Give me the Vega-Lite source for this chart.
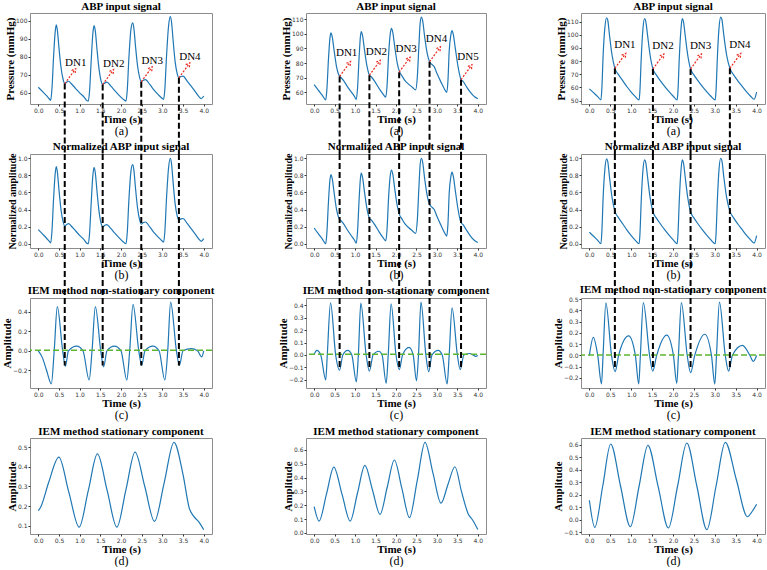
{
"$schema": "https://vega.github.io/schema/vega-lite/v6.json",
"background": "white",
"padding": {"left": 0, "top": 0, "right": 1, "bottom": 0},
"spacing": 61,
"config": {
 "font": "Liberation Serif",
 "view": {"stroke": "#8c8c8c", "strokeWidth": 1, "fill": "white"},
 "axis": {"domain": false, "grid": false, "labelFont": "DejaVu Sans", "labelFontSize": 6, "labelColor": "#333", "tickColor": "#333", "tickSize": 2, "labelPadding": 1, "titleFont": "Liberation Serif", "titleFontSize": 11, "titleFontWeight": "bold", "titleColor": "black", "labelFlush": false, "labelOverlap": false},
 "axisX": {"titlePadding": 0},
 "axisY": {"titlePadding": 0},
 "title": {"font": "Liberation Serif", "fontSize": 11, "fontWeight": "bold", "color": "black", "offset": 1, "frame": "group"}
},
"datasets": {
 "a1": [{"t":0,"v":63.1},{"t":0.1,"v":60.8},{"t":0.2,"v":58.4},{"t":0.28,"v":56.3},{"t":0.3,"v":55.8},{"t":0.33,"v":62},{"t":0.37,"v":80},{"t":0.41,"v":94},{"t":0.435,"v":97.6},{"t":0.46,"v":95},{"t":0.5,"v":85},{"t":0.55,"v":74},{"t":0.6,"v":67.5},{"t":0.64,"v":65.1},{"t":0.69,"v":66},{"t":0.735,"v":66.4},{"t":0.8,"v":65},{"t":0.9,"v":62.5},{"t":1,"v":60},{"t":1.1,"v":57.8},{"t":1.18,"v":55.6},{"t":1.21,"v":55.4},{"t":1.24,"v":61},{"t":1.28,"v":78},{"t":1.32,"v":93},{"t":1.35,"v":97.2},{"t":1.38,"v":94},{"t":1.42,"v":84},{"t":1.47,"v":73},{"t":1.52,"v":66.5},{"t":1.56,"v":64.6},{"t":1.61,"v":65.5},{"t":1.66,"v":65.9},{"t":1.75,"v":63.8},{"t":1.85,"v":61.2},{"t":1.95,"v":58.7},{"t":2.05,"v":56.5},{"t":2.12,"v":55.4},{"t":2.15,"v":61},{"t":2.19,"v":79},{"t":2.24,"v":95},{"t":2.28,"v":98.7},{"t":2.31,"v":96},{"t":2.35,"v":86},{"t":2.4,"v":75},{"t":2.45,"v":68.5},{"t":2.49,"v":66.1},{"t":2.54,"v":67},{"t":2.59,"v":67.3},{"t":2.7,"v":64.5},{"t":2.8,"v":61.5},{"t":2.9,"v":59},{"t":3,"v":56.8},{"t":3.03,"v":56.3},{"t":3.06,"v":62},{"t":3.1,"v":80},{"t":3.15,"v":97},{"t":3.19,"v":102.2},{"t":3.22,"v":99.5},{"t":3.26,"v":89},{"t":3.31,"v":77},{"t":3.36,"v":70.5},{"t":3.4,"v":68.3},{"t":3.45,"v":69},{"t":3.5,"v":69.2},{"t":3.6,"v":66.5},{"t":3.7,"v":63.5},{"t":3.8,"v":60.5},{"t":3.9,"v":57.5},{"t":3.94,"v":56.7},{"t":4,"v":58.2}],
 "b1": [{"t":0,"v":0.165},{"t":0.1,"v":0.115},{"t":0.2,"v":0.064},{"t":0.28,"v":0.019},{"t":0.3,"v":0.009},{"t":0.33,"v":0.141},{"t":0.37,"v":0.526},{"t":0.41,"v":0.825},{"t":0.435,"v":0.902},{"t":0.46,"v":0.846},{"t":0.5,"v":0.632},{"t":0.55,"v":0.397},{"t":0.6,"v":0.259},{"t":0.64,"v":0.207},{"t":0.69,"v":0.226},{"t":0.735,"v":0.235},{"t":0.8,"v":0.205},{"t":0.9,"v":0.152},{"t":1,"v":0.098},{"t":1.1,"v":0.051},{"t":1.18,"v":0.004},{"t":1.21,"v":0},{"t":1.24,"v":0.12},{"t":1.28,"v":0.483},{"t":1.32,"v":0.803},{"t":1.35,"v":0.893},{"t":1.38,"v":0.825},{"t":1.42,"v":0.611},{"t":1.47,"v":0.376},{"t":1.52,"v":0.237},{"t":1.56,"v":0.197},{"t":1.61,"v":0.216},{"t":1.66,"v":0.224},{"t":1.75,"v":0.179},{"t":1.85,"v":0.124},{"t":1.95,"v":0.071},{"t":2.05,"v":0.024},{"t":2.12,"v":0},{"t":2.15,"v":0.12},{"t":2.19,"v":0.504},{"t":2.24,"v":0.846},{"t":2.28,"v":0.925},{"t":2.31,"v":0.868},{"t":2.35,"v":0.654},{"t":2.4,"v":0.419},{"t":2.45,"v":0.28},{"t":2.49,"v":0.229},{"t":2.54,"v":0.248},{"t":2.59,"v":0.254},{"t":2.7,"v":0.194},{"t":2.8,"v":0.13},{"t":2.9,"v":0.077},{"t":3,"v":0.03},{"t":3.03,"v":0.019},{"t":3.06,"v":0.141},{"t":3.1,"v":0.526},{"t":3.15,"v":0.889},{"t":3.19,"v":1.0},{"t":3.22,"v":0.942},{"t":3.26,"v":0.718},{"t":3.31,"v":0.462},{"t":3.36,"v":0.323},{"t":3.4,"v":0.276},{"t":3.45,"v":0.291},{"t":3.5,"v":0.295},{"t":3.6,"v":0.237},{"t":3.7,"v":0.173},{"t":3.8,"v":0.109},{"t":3.9,"v":0.045},{"t":3.94,"v":0.028},{"t":4,"v":0.06}],
 "c1": [{"t":0,"v":0},{"t":0.1,"v":-0.07},{"t":0.2,"v":-0.2},{"t":0.316,"v":-0.34},{"t":0.385,"v":0},{"t":0.46,"v":0.454},{"t":0.59,"v":0},{"t":0.656,"v":-0.159},{"t":0.73,"v":0},{"t":0.93,"v":0.048},{"t":1.08,"v":0},{"t":1.23,"v":-0.3},{"t":1.3,"v":0},{"t":1.38,"v":0.454},{"t":1.51,"v":0},{"t":1.58,"v":-0.165},{"t":1.66,"v":0},{"t":1.84,"v":0.048},{"t":2.0,"v":0},{"t":2.14,"v":-0.3},{"t":2.21,"v":0},{"t":2.29,"v":0.476},{"t":2.43,"v":0},{"t":2.5,"v":-0.149},{"t":2.58,"v":0},{"t":2.77,"v":0.048},{"t":2.92,"v":0},{"t":3.06,"v":-0.3},{"t":3.13,"v":0},{"t":3.2,"v":0.5},{"t":3.34,"v":0},{"t":3.41,"v":-0.149},{"t":3.5,"v":0},{"t":3.7,"v":0.022},{"t":3.85,"v":0},{"t":3.95,"v":-0.063},{"t":4,"v":0}],
 "d1": [{"t":0,"v":0.177},{"t":0.063,"v":0.197},{"t":0.25,"v":0.32},{"t":0.498,"v":0.45},{"t":0.74,"v":0.27},{"t":0.988,"v":0.093},{"t":1.21,"v":0.28},{"t":1.43,"v":0.466},{"t":1.665,"v":0.28},{"t":1.9,"v":0.093},{"t":2.12,"v":0.284},{"t":2.34,"v":0.475},{"t":2.575,"v":0.3},{"t":2.81,"v":0.122},{"t":3.045,"v":0.32},{"t":3.28,"v":0.525},{"t":3.5,"v":0.36},{"t":3.65,"v":0.19},{"t":3.75,"v":0.15},{"t":3.88,"v":0.12},{"t":4,"v":0.08}],
 "a2": [{"t":0,"v":65.3},{"t":0.1,"v":61.5},{"t":0.2,"v":58},{"t":0.283,"v":54.9},{"t":0.31,"v":62},{"t":0.35,"v":83},{"t":0.385,"v":97},{"t":0.41,"v":100.6},{"t":0.44,"v":98},{"t":0.49,"v":88},{"t":0.55,"v":77},{"t":0.62,"v":70.9},{"t":0.66,"v":70},{"t":0.72,"v":68},{"t":0.8,"v":64.5},{"t":0.9,"v":60.5},{"t":0.98,"v":57.5},{"t":1.03,"v":55.3},{"t":1.06,"v":63},{"t":1.1,"v":85},{"t":1.13,"v":98},{"t":1.15,"v":101.5},{"t":1.18,"v":99},{"t":1.23,"v":89},{"t":1.29,"v":78},{"t":1.35,"v":71.7},{"t":1.4,"v":70.5},{"t":1.48,"v":67.5},{"t":1.58,"v":63},{"t":1.68,"v":59},{"t":1.75,"v":56.8},{"t":1.78,"v":64},{"t":1.82,"v":86},{"t":1.86,"v":100},{"t":1.89,"v":103.6},{"t":1.92,"v":101},{"t":1.97,"v":91},{"t":2.03,"v":80},{"t":2.09,"v":73.8},{"t":2.14,"v":71.5},{"t":2.22,"v":68},{"t":2.32,"v":65.3},{"t":2.4,"v":63.5},{"t":2.48,"v":61.7},{"t":2.52,"v":70},{"t":2.56,"v":92},{"t":2.59,"v":107},{"t":2.62,"v":111.3},{"t":2.65,"v":109},{"t":2.7,"v":98},{"t":2.76,"v":87},{"t":2.82,"v":80.9},{"t":2.88,"v":79},{"t":2.93,"v":77.7},{"t":3,"v":73},{"t":3.1,"v":67},{"t":3.18,"v":62.5},{"t":3.24,"v":60},{"t":3.27,"v":68},{"t":3.3,"v":88},{"t":3.34,"v":99},{"t":3.37,"v":102.1},{"t":3.4,"v":99.5},{"t":3.45,"v":90},{"t":3.52,"v":77},{"t":3.59,"v":68.7},{"t":3.64,"v":67.5},{"t":3.72,"v":64},{"t":3.82,"v":60},{"t":3.92,"v":57},{"t":4,"v":55.7}],
 "b2": [{"t":0,"v":0.184},{"t":0.1,"v":0.117},{"t":0.2,"v":0.055},{"t":0.283,"v":0},{"t":0.31,"v":0.126},{"t":0.35,"v":0.498},{"t":0.385,"v":0.746},{"t":0.41,"v":0.81},{"t":0.44,"v":0.764},{"t":0.49,"v":0.587},{"t":0.55,"v":0.392},{"t":0.62,"v":0.284},{"t":0.66,"v":0.268},{"t":0.72,"v":0.232},{"t":0.8,"v":0.17},{"t":0.9,"v":0.099},{"t":0.98,"v":0.046},{"t":1.03,"v":0.007},{"t":1.06,"v":0.144},{"t":1.1,"v":0.534},{"t":1.13,"v":0.764},{"t":1.15,"v":0.826},{"t":1.18,"v":0.782},{"t":1.23,"v":0.605},{"t":1.29,"v":0.41},{"t":1.35,"v":0.298},{"t":1.4,"v":0.277},{"t":1.48,"v":0.223},{"t":1.58,"v":0.144},{"t":1.68,"v":0.073},{"t":1.75,"v":0.034},{"t":1.78,"v":0.161},{"t":1.82,"v":0.551},{"t":1.86,"v":0.8},{"t":1.89,"v":0.863},{"t":1.92,"v":0.817},{"t":1.97,"v":0.64},{"t":2.03,"v":0.445},{"t":2.09,"v":0.335},{"t":2.14,"v":0.294},{"t":2.22,"v":0.232},{"t":2.32,"v":0.184},{"t":2.4,"v":0.152},{"t":2.48,"v":0.121},{"t":2.52,"v":0.268},{"t":2.56,"v":0.658},{"t":2.59,"v":0.924},{"t":2.62,"v":1.0},{"t":2.65,"v":0.959},{"t":2.7,"v":0.764},{"t":2.76,"v":0.569},{"t":2.82,"v":0.461},{"t":2.88,"v":0.427},{"t":2.93,"v":0.404},{"t":3,"v":0.321},{"t":3.1,"v":0.215},{"t":3.18,"v":0.135},{"t":3.24,"v":0.09},{"t":3.27,"v":0.232},{"t":3.3,"v":0.587},{"t":3.34,"v":0.782},{"t":3.37,"v":0.837},{"t":3.4,"v":0.791},{"t":3.45,"v":0.622},{"t":3.52,"v":0.392},{"t":3.59,"v":0.245},{"t":3.64,"v":0.223},{"t":3.72,"v":0.161},{"t":3.82,"v":0.09},{"t":3.92,"v":0.037},{"t":4,"v":0.014}],
 "c2": [{"t":0,"v":0.005},{"t":0.065,"v":0.037},{"t":0.16,"v":0},{"t":0.283,"v":-0.2},{"t":0.32,"v":0},{"t":0.4,"v":0.42},{"t":0.525,"v":0},{"t":0.62,"v":-0.123},{"t":0.7,"v":0},{"t":0.82,"v":0.037},{"t":0.92,"v":0},{"t":1.03,"v":-0.216},{"t":1.08,"v":0},{"t":1.14,"v":0.417},{"t":1.27,"v":0},{"t":1.35,"v":-0.13},{"t":1.44,"v":0},{"t":1.58,"v":0.03},{"t":1.66,"v":0},{"t":1.76,"v":-0.228},{"t":1.81,"v":0},{"t":1.88,"v":0.412},{"t":2.0,"v":0},{"t":2.08,"v":-0.118},{"t":2.16,"v":0},{"t":2.32,"v":0.061},{"t":2.42,"v":0},{"t":2.5,"v":-0.208},{"t":2.55,"v":0},{"t":2.61,"v":0.426},{"t":2.73,"v":0},{"t":2.8,"v":-0.135},{"t":2.88,"v":0},{"t":3.03,"v":0.037},{"t":3.13,"v":0},{"t":3.25,"v":-0.233},{"t":3.3,"v":0},{"t":3.37,"v":0.38},{"t":3.5,"v":0},{"t":3.57,"v":-0.118},{"t":3.66,"v":0},{"t":3.8,"v":0.012},{"t":3.88,"v":0},{"t":3.95,"v":-0.012},{"t":4,"v":-0.005}],
 "d2": [{"t":0,"v":0.19},{"t":0.12,"v":0.085},{"t":0.3,"v":0.28},{"t":0.48,"v":0.476},{"t":0.68,"v":0.28},{"t":0.88,"v":0.085},{"t":1.06,"v":0.29},{"t":1.24,"v":0.488},{"t":1.425,"v":0.31},{"t":1.61,"v":0.134},{"t":1.785,"v":0.33},{"t":1.96,"v":0.527},{"t":2.145,"v":0.32},{"t":2.33,"v":0.11},{"t":2.52,"v":0.38},{"t":2.71,"v":0.654},{"t":2.905,"v":0.43},{"t":3.1,"v":0.215},{"t":3.27,"v":0.35},{"t":3.44,"v":0.478},{"t":3.6,"v":0.3},{"t":3.76,"v":0.141},{"t":3.88,"v":0.09},{"t":4,"v":0.024}],
 "a3": [{"t":0,"v":58.9},{"t":0.1,"v":56},{"t":0.2,"v":53},{"t":0.277,"v":50.5},{"t":0.3,"v":60},{"t":0.33,"v":85},{"t":0.37,"v":105},{"t":0.41,"v":112.9},{"t":0.44,"v":111},{"t":0.48,"v":100},{"t":0.54,"v":85},{"t":0.61,"v":74.5},{"t":0.7,"v":69.5},{"t":0.8,"v":65},{"t":0.9,"v":60.5},{"t":1,"v":56.5},{"t":1.1,"v":53},{"t":1.19,"v":50.5},{"t":1.21,"v":58},{"t":1.24,"v":82},{"t":1.28,"v":104},{"t":1.32,"v":112.2},{"t":1.35,"v":110},{"t":1.39,"v":100},{"t":1.45,"v":85},{"t":1.52,"v":74},{"t":1.6,"v":69.5},{"t":1.7,"v":65},{"t":1.8,"v":60.8},{"t":1.9,"v":57},{"t":2,"v":53.5},{"t":2.1,"v":50.5},{"t":2.12,"v":58},{"t":2.15,"v":82},{"t":2.19,"v":104},{"t":2.22,"v":112.2},{"t":2.25,"v":110},{"t":2.29,"v":100},{"t":2.35,"v":85},{"t":2.42,"v":74},{"t":2.5,"v":69.5},{"t":2.6,"v":65},{"t":2.7,"v":60.8},{"t":2.8,"v":57},{"t":2.9,"v":53.5},{"t":3.01,"v":50.5},{"t":3.03,"v":58},{"t":3.06,"v":82},{"t":3.1,"v":105},{"t":3.14,"v":113.4},{"t":3.17,"v":111.5},{"t":3.21,"v":101},{"t":3.28,"v":85},{"t":3.36,"v":74.5},{"t":3.45,"v":69.5},{"t":3.55,"v":65},{"t":3.65,"v":61},{"t":3.75,"v":57},{"t":3.85,"v":53.5},{"t":3.94,"v":51},{"t":4,"v":56.5}],
 "b3": [{"t":0,"v":0.134},{"t":0.1,"v":0.087},{"t":0.2,"v":0.04},{"t":0.277,"v":0},{"t":0.3,"v":0.151},{"t":0.33,"v":0.548},{"t":0.37,"v":0.866},{"t":0.41,"v":0.992},{"t":0.44,"v":0.962},{"t":0.48,"v":0.787},{"t":0.54,"v":0.548},{"t":0.61,"v":0.382},{"t":0.7,"v":0.302},{"t":0.8,"v":0.231},{"t":0.9,"v":0.159},{"t":1,"v":0.095},{"t":1.1,"v":0.04},{"t":1.19,"v":0},{"t":1.21,"v":0.119},{"t":1.24,"v":0.501},{"t":1.28,"v":0.851},{"t":1.32,"v":0.981},{"t":1.35,"v":0.946},{"t":1.39,"v":0.787},{"t":1.45,"v":0.548},{"t":1.52,"v":0.374},{"t":1.6,"v":0.302},{"t":1.7,"v":0.231},{"t":1.8,"v":0.164},{"t":1.9,"v":0.103},{"t":2,"v":0.048},{"t":2.1,"v":0},{"t":2.12,"v":0.119},{"t":2.15,"v":0.501},{"t":2.19,"v":0.851},{"t":2.22,"v":0.981},{"t":2.25,"v":0.946},{"t":2.29,"v":0.787},{"t":2.35,"v":0.548},{"t":2.42,"v":0.374},{"t":2.5,"v":0.302},{"t":2.6,"v":0.231},{"t":2.7,"v":0.164},{"t":2.8,"v":0.103},{"t":2.9,"v":0.048},{"t":3.01,"v":0},{"t":3.03,"v":0.119},{"t":3.06,"v":0.501},{"t":3.1,"v":0.866},{"t":3.14,"v":1.0},{"t":3.17,"v":0.97},{"t":3.21,"v":0.803},{"t":3.28,"v":0.548},{"t":3.36,"v":0.382},{"t":3.45,"v":0.302},{"t":3.55,"v":0.231},{"t":3.65,"v":0.167},{"t":3.75,"v":0.103},{"t":3.85,"v":0.048},{"t":3.94,"v":0.008},{"t":4,"v":0.095}],
 "c3": [{"t":0,"v":0},{"t":0.095,"v":0.16},{"t":0.2,"v":0},{"t":0.29,"v":-0.253},{"t":0.327,"v":0},{"t":0.395,"v":0.466},{"t":0.53,"v":0},{"t":0.615,"v":-0.144},{"t":0.7,"v":0},{"t":0.94,"v":0.174},{"t":1.1,"v":0},{"t":1.18,"v":-0.253},{"t":1.22,"v":0},{"t":1.29,"v":0.469},{"t":1.44,"v":0},{"t":1.515,"v":-0.139},{"t":1.61,"v":0},{"t":1.85,"v":0.18},{"t":2.01,"v":0},{"t":2.09,"v":-0.248},{"t":2.13,"v":0},{"t":2.2,"v":0.469},{"t":2.34,"v":0},{"t":2.42,"v":-0.153},{"t":2.52,"v":0},{"t":2.76,"v":0.188},{"t":2.92,"v":0},{"t":3.0,"v":-0.253},{"t":3.04,"v":0},{"t":3.11,"v":0.474},{"t":3.25,"v":0},{"t":3.33,"v":-0.139},{"t":3.42,"v":0},{"t":3.66,"v":0.09},{"t":3.84,"v":0},{"t":3.92,"v":-0.052},{"t":4,"v":0}],
 "d3": [{"t":0,"v":0.156},{"t":0.13,"v":-0.061},{"t":0.32,"v":0.27},{"t":0.51,"v":0.606},{"t":0.745,"v":0.27},{"t":0.98,"v":-0.056},{"t":1.19,"v":0.27},{"t":1.4,"v":0.595},{"t":1.645,"v":0.265},{"t":1.89,"v":-0.066},{"t":2.11,"v":0.27},{"t":2.33,"v":0.614},{"t":2.57,"v":0.27},{"t":2.81,"v":-0.079},{"t":3.03,"v":0.27},{"t":3.25,"v":0.619},{"t":3.515,"v":0.32},{"t":3.78,"v":0.024},{"t":3.9,"v":0.07},{"t":4,"v":0.124}],
 "dn1": [{"n":"DN1","t":0.64,"v":65.1},{"n":"DN2","t":1.557,"v":64.6},{"n":"DN3","t":2.49,"v":66.1},{"n":"DN4","t":3.4,"v":68.3}],
 "dn2": [{"n":"DN1","t":0.622,"v":70.9},{"n":"DN2","t":1.35,"v":71.7},{"n":"DN3","t":2.077,"v":73.8},{"n":"DN4","t":2.82,"v":80.9},{"n":"DN5","t":3.59,"v":68.7}],
 "dn3": [{"n":"DN1","t":0.61,"v":74.5},{"n":"DN2","t":1.52,"v":74},{"n":"DN3","t":2.42,"v":74},{"n":"DN4","t":3.36,"v":74.5}],
 "lab": [{"u":0}]
},
"hconcat": [
 {"spacing": 50, "bounds": "flush", "vconcat": [
  {"title": "ABP input signal", "width": 182, "height": 91,
   "resolve": {"scale": {"x": "independent"}, "axis": {"x": "independent", "y": "independent"}},
   "layer": [
    {"data": {"name": "a1"}, "mark": {"type": "line", "interpolate": "monotone", "color": "#1f77b4", "strokeWidth": 1.2},
     "encoding": {"x": {"field": "t", "type": "quantitative", "scale": {"domain": [-0.2, 4.2], "nice": false, "zero": false}, "axis": {"values": [0,0.5,1,1.5,2,2.5,3,3.5,4], "format": ".1f", "title": "Time (s)"}},
                  "y": {"field": "v", "type": "quantitative", "scale": {"domain": [53.8, 104.2], "nice": false, "zero": false}, "axis": {"values": [60,70,80,90,100], "format": "d", "title": "Pressure (mmHg)"}}}},
    {"data": {"name": "dn1"}, "mark": {"type": "rule", "color": "black", "strokeWidth": 2, "strokeDash": [6,3]},
     "encoding": {"x": {"field": "t", "type": "quantitative", "scale": {"domain": [-0.2, 4.2], "nice": false, "zero": false}, "axis": null}, "y": {"field": "v", "type": "quantitative", "axis": null}, "y2": {"datum": 15}}},
    {"data": {"name": "dn1"}, "mark": {"type": "point", "shape": "M0,0L0.73,-1M0.455,-0.878L0.73,-1L0.698,-0.701", "size": 900, "filled": false, "color": "#e8281e", "strokeWidth": 1.2, "strokeDash": [2,1.5], "opacity": 1},
     "encoding": {"x": {"field": "t", "type": "quantitative", "scale": {"domain": [-0.2, 4.2], "nice": false, "zero": false}, "axis": null}, "y": {"field": "v", "type": "quantitative", "axis": null}}},
    {"data": {"name": "dn1"}, "mark": {"type": "text", "dx": 11, "dy": -21, "fontSize": 11, "font": "Liberation Serif"},
     "encoding": {"x": {"field": "t", "type": "quantitative", "scale": {"domain": [-0.2, 4.2], "nice": false, "zero": false}, "axis": null}, "y": {"field": "v", "type": "quantitative", "axis": null}, "text": {"field": "n"}}},
    {"data": {"name": "lab"}, "mark": {"type": "point", "opacity": 0},
     "encoding": {"x": {"field": "u", "type": "quantitative", "scale": {"domain": [0, 1]}, "axis": {"orient": "bottom", "offset": 20, "labels": false, "ticks": false, "domain": false, "title": "(a)", "titleFontWeight": "normal", "titleFontSize": 12, "titlePadding": 1}}}}
   ]},
  {"title": "Normalized ABP input signal", "width": 182, "height": 94,
   "resolve": {"scale": {"x": "independent"}, "axis": {"x": "independent", "y": "independent"}},
   "layer": [
    {"data": {"name": "b1"}, "mark": {"type": "line", "interpolate": "monotone", "color": "#1f77b4", "strokeWidth": 1.2},
     "encoding": {"x": {"field": "t", "type": "quantitative", "scale": {"domain": [-0.2, 4.2], "nice": false, "zero": false}, "axis": {"values": [0,0.5,1,1.5,2,2.5,3,3.5,4], "format": ".1f", "title": "Time (s)"}},
                  "y": {"field": "v", "type": "quantitative", "scale": {"domain": [-0.05, 1.05], "nice": false, "zero": false}, "axis": {"values": [0,0.2,0.4,0.6,0.8,1], "format": ".1f", "title": "Normalized amplitude", "titleFontSize": 10}}}},
    {"data": {"name": "dn1"}, "mark": {"type": "rule", "color": "black", "strokeWidth": 2, "strokeDash": [6,3]},
     "encoding": {"x": {"field": "t", "type": "quantitative", "scale": {"domain": [-0.2, 4.2], "nice": false, "zero": false}, "axis": null}, "y": {"datum": 1.05, "axis": null}, "y2": {"datum": -0.8}}},
    {"data": {"name": "lab"}, "mark": {"type": "point", "opacity": 0},
     "encoding": {"x": {"field": "u", "type": "quantitative", "scale": {"domain": [0, 1]}, "axis": {"orient": "bottom", "offset": 20, "labels": false, "ticks": false, "domain": false, "title": "(b)", "titleFontWeight": "normal", "titleFontSize": 12, "titlePadding": 1}}}}
   ]},
  {"title": "IEM method non-stationary component", "width": 182, "height": 90,
   "resolve": {"scale": {"x": "independent"}, "axis": {"x": "independent", "y": "independent"}},
   "layer": [
    {"data": {"name": "c1"}, "mark": {"type": "line", "interpolate": "monotone", "color": "#1f77b4", "strokeWidth": 1.2},
     "encoding": {"x": {"field": "t", "type": "quantitative", "scale": {"domain": [-0.2, 4.2], "nice": false, "zero": false}, "axis": {"values": [0,0.5,1,1.5,2,2.5,3,3.5,4], "format": ".1f", "title": "Time (s)"}},
                  "y": {"field": "v", "type": "quantitative", "scale": {"domain": [-0.382, 0.542], "nice": false, "zero": false}, "axis": {"values": [-0.2,0,0.2,0.4], "format": ".1f", "title": "Amplitude"}}}},
    {"data": {"name": "lab"}, "mark": {"type": "rule", "color": "#5cb531", "strokeWidth": 1.5, "strokeDash": [6,3]},
     "encoding": {"y": {"datum": 0.005, "axis": null}}},
    {"data": {"name": "dn1"}, "mark": {"type": "rule", "color": "black", "strokeWidth": 2, "strokeDash": [6,3]},
     "encoding": {"x": {"field": "t", "type": "quantitative", "scale": {"domain": [-0.2, 4.2], "nice": false, "zero": false}, "axis": null}, "y": {"datum": 0.542, "axis": null}, "y2": {"datum": -0.15}}},
    {"data": {"name": "lab"}, "mark": {"type": "point", "opacity": 0},
     "encoding": {"x": {"field": "u", "type": "quantitative", "scale": {"domain": [0, 1]}, "axis": {"orient": "bottom", "offset": 20, "labels": false, "ticks": false, "domain": false, "title": "(c)", "titleFontWeight": "normal", "titleFontSize": 12, "titlePadding": 1}}}}
   ]},
  {"title": "IEM method stationary component", "width": 182, "height": 96,
   "resolve": {"scale": {"x": "independent"}, "axis": {"x": "independent"}},
   "layer": [
    {"data": {"name": "d1"}, "mark": {"type": "line", "interpolate": "monotone", "color": "#1f77b4", "strokeWidth": 1.2},
     "encoding": {"x": {"field": "t", "type": "quantitative", "scale": {"domain": [-0.2, 4.2], "nice": false, "zero": false}, "axis": {"values": [0,0.5,1,1.5,2,2.5,3,3.5,4], "format": ".1f", "title": "Time (s)"}},
                  "y": {"field": "v", "type": "quantitative", "scale": {"domain": [0.058, 0.547], "nice": false, "zero": false}, "axis": {"values": [0.1,0.2,0.3,0.4,0.5], "format": ".1f", "title": "Amplitude"}}}},
    {"data": {"name": "lab"}, "mark": {"type": "point", "opacity": 0},
     "encoding": {"x": {"field": "u", "type": "quantitative", "scale": {"domain": [0, 1]}, "axis": {"orient": "bottom", "offset": 20, "labels": false, "ticks": false, "domain": false, "title": "(d)", "titleFontWeight": "normal", "titleFontSize": 12, "titlePadding": 1}}}}
   ]}
 ]},
 {"spacing": 50, "bounds": "flush", "vconcat": [
  {"title": "ABP input signal", "width": 180, "height": 91,
   "resolve": {"scale": {"x": "independent"}, "axis": {"x": "independent", "y": "independent"}},
   "layer": [
    {"data": {"name": "a2"}, "mark": {"type": "line", "interpolate": "monotone", "color": "#1f77b4", "strokeWidth": 1.2},
     "encoding": {"x": {"field": "t", "type": "quantitative", "scale": {"domain": [-0.2, 4.2], "nice": false, "zero": false}, "axis": {"values": [0,0.5,1,1.5,2,2.5,3,3.5,4], "format": ".1f", "title": "Time (s)"}},
                  "y": {"field": "v", "type": "quantitative", "scale": {"domain": [52.1, 114.1], "nice": false, "zero": false}, "axis": {"values": [60,70,80,90,100,110], "format": "d", "title": "Pressure (mmHg)"}}}},
    {"data": {"name": "dn2"}, "mark": {"type": "rule", "color": "black", "strokeWidth": 2, "strokeDash": [6,3]},
     "encoding": {"x": {"field": "t", "type": "quantitative", "scale": {"domain": [-0.2, 4.2], "nice": false, "zero": false}, "axis": null}, "y": {"field": "v", "type": "quantitative", "axis": null}, "y2": {"datum": 4}}},
    {"data": {"name": "dn2"}, "mark": {"type": "point", "shape": "M0,0L0.73,-1M0.455,-0.878L0.73,-1L0.698,-0.701", "size": 900, "filled": false, "color": "#e8281e", "strokeWidth": 1.2, "strokeDash": [2,1.5], "opacity": 1},
     "encoding": {"x": {"field": "t", "type": "quantitative", "scale": {"domain": [-0.2, 4.2], "nice": false, "zero": false}, "axis": null}, "y": {"field": "v", "type": "quantitative", "axis": null}}},
    {"data": {"name": "dn2"}, "mark": {"type": "text", "dx": 7, "dy": -23, "fontSize": 11, "font": "Liberation Serif"},
     "encoding": {"x": {"field": "t", "type": "quantitative", "scale": {"domain": [-0.2, 4.2], "nice": false, "zero": false}, "axis": null}, "y": {"field": "v", "type": "quantitative", "axis": null}, "text": {"field": "n"}}},
    {"data": {"name": "lab"}, "mark": {"type": "point", "opacity": 0},
     "encoding": {"x": {"field": "u", "type": "quantitative", "scale": {"domain": [0, 1]}, "axis": {"orient": "bottom", "offset": 20, "labels": false, "ticks": false, "domain": false, "title": "(a)", "titleFontWeight": "normal", "titleFontSize": 12, "titlePadding": 1}}}}
   ]},
  {"title": "Normalized ABP input signal", "width": 180, "height": 94,
   "resolve": {"scale": {"x": "independent"}, "axis": {"x": "independent", "y": "independent"}},
   "layer": [
    {"data": {"name": "b2"}, "mark": {"type": "line", "interpolate": "monotone", "color": "#1f77b4", "strokeWidth": 1.2},
     "encoding": {"x": {"field": "t", "type": "quantitative", "scale": {"domain": [-0.2, 4.2], "nice": false, "zero": false}, "axis": {"values": [0,0.5,1,1.5,2,2.5,3,3.5,4], "format": ".1f", "title": "Time (s)"}},
                  "y": {"field": "v", "type": "quantitative", "scale": {"domain": [-0.05, 1.05], "nice": false, "zero": false}, "axis": {"values": [0,0.2,0.4,0.6,0.8,1], "format": ".1f", "title": "Normalized amplitude", "titleFontSize": 10}}}},
    {"data": {"name": "dn2"}, "mark": {"type": "rule", "color": "black", "strokeWidth": 2, "strokeDash": [6,3]},
     "encoding": {"x": {"field": "t", "type": "quantitative", "scale": {"domain": [-0.2, 4.2], "nice": false, "zero": false}, "axis": null}, "y": {"datum": 1.05, "axis": null}, "y2": {"datum": -0.8}}},
    {"data": {"name": "lab"}, "mark": {"type": "point", "opacity": 0},
     "encoding": {"x": {"field": "u", "type": "quantitative", "scale": {"domain": [0, 1]}, "axis": {"orient": "bottom", "offset": 20, "labels": false, "ticks": false, "domain": false, "title": "(b)", "titleFontWeight": "normal", "titleFontSize": 12, "titlePadding": 1}}}}
   ]},
  {"title": "IEM method non-stationary component", "width": 180, "height": 90,
   "resolve": {"scale": {"x": "independent"}, "axis": {"x": "independent", "y": "independent"}},
   "layer": [
    {"data": {"name": "c2"}, "mark": {"type": "line", "interpolate": "monotone", "color": "#1f77b4", "strokeWidth": 1.2},
     "encoding": {"x": {"field": "t", "type": "quantitative", "scale": {"domain": [-0.2, 4.2], "nice": false, "zero": false}, "axis": {"values": [0,0.5,1,1.5,2,2.5,3,3.5,4], "format": ".1f", "title": "Time (s)"}},
                  "y": {"field": "v", "type": "quantitative", "scale": {"domain": [-0.266, 0.459], "nice": false, "zero": false}, "axis": {"values": [-0.2,-0.1,0,0.1,0.2,0.3,0.4], "format": ".1f", "title": "Amplitude"}}}},
    {"data": {"name": "lab"}, "mark": {"type": "rule", "color": "#5cb531", "strokeWidth": 1.5, "strokeDash": [6,3]},
     "encoding": {"y": {"datum": 0.005, "axis": null}}},
    {"data": {"name": "dn2"}, "mark": {"type": "rule", "color": "black", "strokeWidth": 2, "strokeDash": [6,3]},
     "encoding": {"x": {"field": "t", "type": "quantitative", "scale": {"domain": [-0.2, 4.2], "nice": false, "zero": false}, "axis": null}, "y": {"datum": 0.459, "axis": null}, "y2": {"datum": -0.12}}},
    {"data": {"name": "lab"}, "mark": {"type": "point", "opacity": 0},
     "encoding": {"x": {"field": "u", "type": "quantitative", "scale": {"domain": [0, 1]}, "axis": {"orient": "bottom", "offset": 20, "labels": false, "ticks": false, "domain": false, "title": "(c)", "titleFontWeight": "normal", "titleFontSize": 12, "titlePadding": 1}}}}
   ]},
  {"title": "IEM method stationary component", "width": 180, "height": 96,
   "resolve": {"scale": {"x": "independent"}, "axis": {"x": "independent"}},
   "layer": [
    {"data": {"name": "d2"}, "mark": {"type": "line", "interpolate": "monotone", "color": "#1f77b4", "strokeWidth": 1.2},
     "encoding": {"x": {"field": "t", "type": "quantitative", "scale": {"domain": [-0.2, 4.2], "nice": false, "zero": false}, "axis": {"values": [0,0.5,1,1.5,2,2.5,3,3.5,4], "format": ".1f", "title": "Time (s)"}},
                  "y": {"field": "v", "type": "quantitative", "scale": {"domain": [-0.008, 0.686], "nice": false, "zero": false}, "axis": {"values": [0,0.1,0.2,0.3,0.4,0.5,0.6], "format": ".1f", "title": "Amplitude"}}}},
    {"data": {"name": "lab"}, "mark": {"type": "point", "opacity": 0},
     "encoding": {"x": {"field": "u", "type": "quantitative", "scale": {"domain": [0, 1]}, "axis": {"orient": "bottom", "offset": 20, "labels": false, "ticks": false, "domain": false, "title": "(d)", "titleFontWeight": "normal", "titleFontSize": 12, "titlePadding": 1}}}}
   ]}
 ]},
 {"spacing": 50, "bounds": "flush", "vconcat": [
  {"title": "ABP input signal", "width": 184, "height": 91,
   "resolve": {"scale": {"x": "independent"}, "axis": {"x": "independent", "y": "independent"}},
   "layer": [
    {"data": {"name": "a3"}, "mark": {"type": "line", "interpolate": "monotone", "color": "#1f77b4", "strokeWidth": 1.2},
     "encoding": {"x": {"field": "t", "type": "quantitative", "scale": {"domain": [-0.2, 4.2], "nice": false, "zero": false}, "axis": {"values": [0,0.5,1,1.5,2,2.5,3,3.5,4], "format": ".1f", "title": "Time (s)"}},
                  "y": {"field": "v", "type": "quantitative", "scale": {"domain": [47.4, 116.5], "nice": false, "zero": false}, "axis": {"values": [50,60,70,80,90,100,110], "format": "d", "title": "Pressure (mmHg)"}}}},
    {"data": {"name": "dn3"}, "mark": {"type": "rule", "color": "black", "strokeWidth": 2, "strokeDash": [6,3]},
     "encoding": {"x": {"field": "t", "type": "quantitative", "scale": {"domain": [-0.2, 4.2], "nice": false, "zero": false}, "axis": null}, "y": {"field": "v", "type": "quantitative", "axis": null}, "y2": {"datum": -6}}},
    {"data": {"name": "dn3"}, "mark": {"type": "point", "shape": "M0,0L0.73,-1M0.455,-0.878L0.73,-1L0.698,-0.701", "size": 900, "filled": false, "color": "#e8281e", "strokeWidth": 1.2, "strokeDash": [2,1.5], "opacity": 1},
     "encoding": {"x": {"field": "t", "type": "quantitative", "scale": {"domain": [-0.2, 4.2], "nice": false, "zero": false}, "axis": null}, "y": {"field": "v", "type": "quantitative", "axis": null}}},
    {"data": {"name": "dn3"}, "mark": {"type": "text", "dx": 10, "dy": -23, "fontSize": 11, "font": "Liberation Serif"},
     "encoding": {"x": {"field": "t", "type": "quantitative", "scale": {"domain": [-0.2, 4.2], "nice": false, "zero": false}, "axis": null}, "y": {"field": "v", "type": "quantitative", "axis": null}, "text": {"field": "n"}}},
    {"data": {"name": "lab"}, "mark": {"type": "point", "opacity": 0},
     "encoding": {"x": {"field": "u", "type": "quantitative", "scale": {"domain": [0, 1]}, "axis": {"orient": "bottom", "offset": 20, "labels": false, "ticks": false, "domain": false, "title": "(a)", "titleFontWeight": "normal", "titleFontSize": 12, "titlePadding": 1}}}}
   ]},
  {"title": "Normalized ABP input signal", "width": 184, "height": 94,
   "resolve": {"scale": {"x": "independent"}, "axis": {"x": "independent", "y": "independent"}},
   "layer": [
    {"data": {"name": "b3"}, "mark": {"type": "line", "interpolate": "monotone", "color": "#1f77b4", "strokeWidth": 1.2},
     "encoding": {"x": {"field": "t", "type": "quantitative", "scale": {"domain": [-0.2, 4.2], "nice": false, "zero": false}, "axis": {"values": [0,0.5,1,1.5,2,2.5,3,3.5,4], "format": ".1f", "title": "Time (s)"}},
                  "y": {"field": "v", "type": "quantitative", "scale": {"domain": [-0.05, 1.05], "nice": false, "zero": false}, "axis": {"values": [0,0.2,0.4,0.6,0.8,1], "format": ".1f", "title": "Normalized amplitude", "titleFontSize": 10}}}},
    {"data": {"name": "dn3"}, "mark": {"type": "rule", "color": "black", "strokeWidth": 2, "strokeDash": [6,3]},
     "encoding": {"x": {"field": "t", "type": "quantitative", "scale": {"domain": [-0.2, 4.2], "nice": false, "zero": false}, "axis": null}, "y": {"datum": 1.05, "axis": null}, "y2": {"datum": -0.8}}},
    {"data": {"name": "lab"}, "mark": {"type": "point", "opacity": 0},
     "encoding": {"x": {"field": "u", "type": "quantitative", "scale": {"domain": [0, 1]}, "axis": {"orient": "bottom", "offset": 20, "labels": false, "ticks": false, "domain": false, "title": "(b)", "titleFontWeight": "normal", "titleFontSize": 12, "titlePadding": 1}}}}
   ]},
  {"title": "IEM method non-stationary component", "width": 184, "height": 90,
   "resolve": {"scale": {"x": "independent"}, "axis": {"x": "independent", "y": "independent"}},
   "layer": [
    {"data": {"name": "c3"}, "mark": {"type": "line", "interpolate": "monotone", "color": "#1f77b4", "strokeWidth": 1.2},
     "encoding": {"x": {"field": "t", "type": "quantitative", "scale": {"domain": [-0.2, 4.2], "nice": false, "zero": false}, "axis": {"values": [0,0.5,1,1.5,2,2.5,3,3.5,4], "format": ".1f", "title": "Time (s)"}},
                  "y": {"field": "v", "type": "quantitative", "scale": {"domain": [-0.289, 0.51], "nice": false, "zero": false}, "axis": {"values": [-0.2,-0.1,0,0.1,0.2,0.3,0.4,0.5], "format": ".1f", "title": "Amplitude"}}}},
    {"data": {"name": "lab"}, "mark": {"type": "rule", "color": "#5cb531", "strokeWidth": 1.5, "strokeDash": [6,3]},
     "encoding": {"y": {"datum": 0.005, "axis": null}}},
    {"data": {"name": "dn3"}, "mark": {"type": "rule", "color": "black", "strokeWidth": 2, "strokeDash": [6,3]},
     "encoding": {"x": {"field": "t", "type": "quantitative", "scale": {"domain": [-0.2, 4.2], "nice": false, "zero": false}, "axis": null}, "y": {"datum": 0.51, "axis": null}, "y2": {"datum": -0.11}}},
    {"data": {"name": "lab"}, "mark": {"type": "point", "opacity": 0},
     "encoding": {"x": {"field": "u", "type": "quantitative", "scale": {"domain": [0, 1]}, "axis": {"orient": "bottom", "offset": 20, "labels": false, "ticks": false, "domain": false, "title": "(c)", "titleFontWeight": "normal", "titleFontSize": 12, "titlePadding": 1}}}}
   ]},
  {"title": "IEM method stationary component", "width": 184, "height": 96,
   "resolve": {"scale": {"x": "independent"}, "axis": {"x": "independent"}},
   "layer": [
    {"data": {"name": "d3"}, "mark": {"type": "line", "interpolate": "monotone", "color": "#1f77b4", "strokeWidth": 1.2},
     "encoding": {"x": {"field": "t", "type": "quantitative", "scale": {"domain": [-0.2, 4.2], "nice": false, "zero": false}, "axis": {"values": [0,0.5,1,1.5,2,2.5,3,3.5,4], "format": ".1f", "title": "Time (s)"}},
                  "y": {"field": "v", "type": "quantitative", "scale": {"domain": [-0.114, 0.654], "nice": false, "zero": false}, "axis": {"values": [-0.1,0,0.1,0.2,0.3,0.4,0.5,0.6], "format": ".1f", "title": "Amplitude"}}}},
    {"data": {"name": "lab"}, "mark": {"type": "point", "opacity": 0},
     "encoding": {"x": {"field": "u", "type": "quantitative", "scale": {"domain": [0, 1]}, "axis": {"orient": "bottom", "offset": 20, "labels": false, "ticks": false, "domain": false, "title": "(d)", "titleFontWeight": "normal", "titleFontSize": 12, "titlePadding": 1}}}}
   ]}
 ]}
]
}
